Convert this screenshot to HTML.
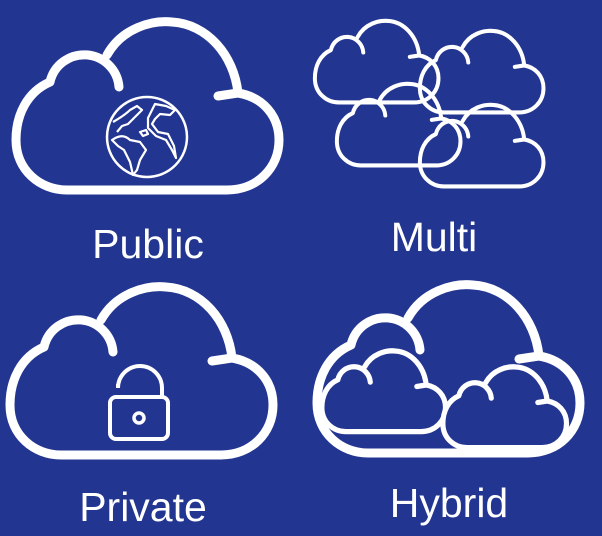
<!DOCTYPE html>
<html><head><style>
html,body{margin:0;padding:0;background:#223591;}
svg{display:block}
text{font-family:"Liberation Sans",sans-serif;fill:#fff;text-anchor:middle}
</style></head><body>
<svg width="602" height="536" viewBox="0 0 602 536" xmlns="http://www.w3.org/2000/svg">
<rect width="602" height="536" fill="#223591"/>
<defs>
<g id="c">
<path d="M107 67 A35 35 0 0 0 38 62 C15 72 4 95 4 120 C4 150 28 170 55 170 L215 170 C245 170 267 148 267 120 C267 95 250 77 226 73 M206 76 L226 73 M95 35 C110 8 140 0 160 2 C195 4 222 35 226 73" stroke-linecap="round" stroke-linejoin="round"/>
</g>
<path id="cf" d="M38 62 C15 72 4 95 4 120 C4 150 28 170 55 170 L215 170 C245 170 267 148 267 120 C267 95 250 77 226 73 C222 35 195 4 160 2 C140 0 110 8 95 35 C80 25 45 35 38 62Z"/>
</defs>
<g fill="none" stroke="#fff">
<use href="#c" transform="translate(12,20)" stroke-width="9"/>
<circle cx="147" cy="137" r="40" stroke-width="2.5"/>
<path d="M113 122 C120 118 125 115 130 110 L137 106 L142 110 L134 118 L128 124 L122 126 L117 132 M112 140 C118 136 124 134 130 140 L140 142 L146 150 L140 160 L137 170 L133 175 L130 162 L124 150 L118 146 Z M155 104 L166 106 L175 110 L170 115 L160 114 L155 119 L152 124 L158 132 L168 134 L174 146 L176 158 L172 150 L166 140 L156 136 L148 128 L148 118 Z M140 132 L146 130 L148 134 L143 136 Z" stroke-width="2.2" stroke-linejoin="round"/>
<use href="#c" transform="translate(6,285)" stroke-width="9"/>
<path d="M118 385 L118 388 A22 22 0 0 1 162 388 L162 397" stroke-width="4" stroke-linecap="round"/>
<path d="M118 385 L118 384" stroke-width="0"/>
<rect x="110" y="397" width="58" height="42" rx="6" stroke-width="4"/>
<circle cx="139" cy="418" r="5" stroke-width="3.5"/>
<use href="#c" transform="translate(313,20) scale(0.47,0.485)" stroke-width="8.5"/>
<use href="#c" transform="translate(418,30) scale(0.47,0.485)" stroke-width="8.5"/>
<use href="#c" transform="translate(335,83) scale(0.47,0.485)" stroke-width="8.5"/>
<use href="#c" transform="translate(418,104) scale(0.47,0.485)" stroke-width="8.5"/>
<use href="#c" transform="translate(313,283)" stroke-width="9"/>
<use href="#cf" transform="translate(320,350) scale(0.47,0.48)" fill="#223591" stroke="none"/>
<use href="#c" transform="translate(320,350) scale(0.47,0.48)" stroke-width="11"/>
<use href="#cf" transform="translate(441,366) scale(0.47,0.48)" fill="#223591" stroke="none"/>
<use href="#c" transform="translate(441,366) scale(0.47,0.48)" stroke-width="11"/>
</g>
<text x="148" y="258" font-size="41">Public</text>
<text x="434" y="251" font-size="41">Multi</text>
<text x="143" y="521" font-size="41">Private</text>
<text x="449" y="517" font-size="41">Hybrid</text>
</svg>
</body></html>
